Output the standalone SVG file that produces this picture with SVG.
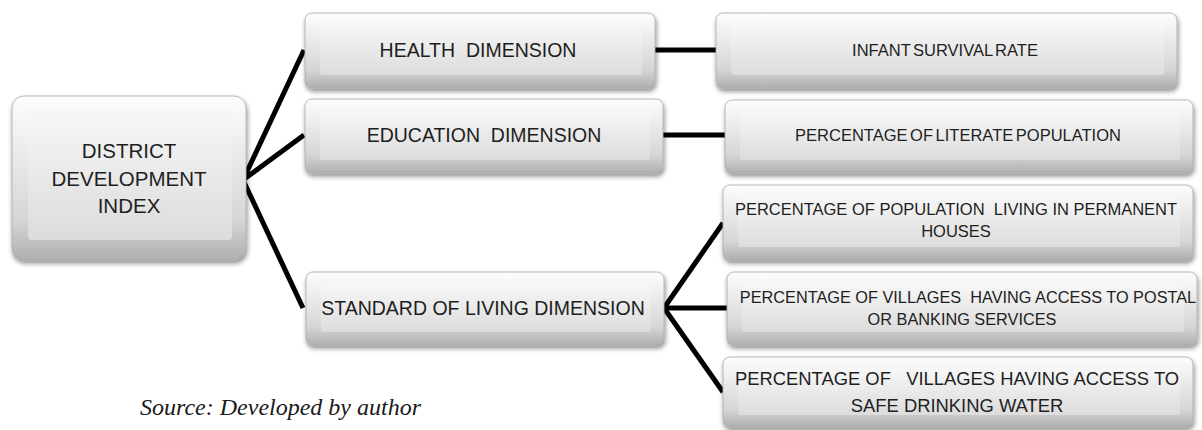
<svg xmlns="http://www.w3.org/2000/svg" width="1202" height="430" viewBox="0 0 1202 430">
<defs>
<linearGradient id="outerG" x1="0" y1="0" x2="0" y2="1">
<stop offset="0" stop-color="#fdfdfd"/>
<stop offset="0.75" stop-color="#d6d6d6"/>
<stop offset="1" stop-color="#afafaf"/>
</linearGradient>
<linearGradient id="faceG" x1="0" y1="0" x2="0" y2="1">
<stop offset="0" stop-color="#f7f7f7"/>
<stop offset="1" stop-color="#dcdcdc"/>
</linearGradient>
<filter id="sh" x="-5%" y="-10%" width="112%" height="130%">
<feGaussianBlur in="SourceAlpha" stdDeviation="2.5"/>
<feOffset dx="1" dy="3" result="b"/>
<feComponentTransfer><feFuncA type="linear" slope="0.45"/></feComponentTransfer>
<feMerge><feMergeNode/><feMergeNode in="SourceGraphic"/></feMerge>
</filter>
</defs>
<style>
.box{fill:url(#outerG);stroke:#a8a8a8;stroke-width:0.8;filter:url(#sh)}
.face{fill:url(#faceG)}
.t{font-family:"Liberation Sans",Arial,sans-serif;fill:#1e1e1e;text-anchor:middle}
.src{font-family:"Liberation Serif","Times New Roman",serif;font-style:italic;fill:#1a1a1a;font-size:24px}
.c{stroke:#000;stroke-width:5;fill:none;stroke-linecap:butt}
</style>
<rect width="1202" height="430" fill="#ffffff"/>

<g id="connectors">
<line class="c" x1="243" y1="180" x2="304" y2="50"/>
<line class="c" x1="243" y1="180" x2="304" y2="135"/>
<line class="c" x1="243" y1="180" x2="303" y2="308"/>
<line class="c" x1="655" y1="50" x2="716" y2="50"/>
<line class="c" x1="663" y1="135" x2="725" y2="135"/>
<line class="c" x1="664" y1="308" x2="723" y2="223"/>
<line class="c" x1="664" y1="308" x2="727" y2="308"/>
<line class="c" x1="664" y1="308" x2="723" y2="392"/>
</g>

<g id="ddi">
<rect class="box" x="12" y="96" width="234" height="164" rx="12"/>
<rect class="face" x="28" y="108" width="204" height="132" rx="4"/>
<text class="t" font-size="20.5"><tspan x="129" y="158">DISTRICT</tspan><tspan x="129" y="186">DEVELOPMENT</tspan><tspan x="129" y="213">INDEX</tspan></text>
</g>

<g id="health">
<rect class="box" x="305" y="13" width="350" height="75" rx="7"/>
<rect class="face" x="320" y="24" width="322" height="51" rx="3"/>
<text class="t" font-size="19.5" x="478" y="57" xml:space="preserve">HEALTH  DIMENSION</text>
</g>

<g id="education">
<rect class="box" x="305" y="99" width="358" height="74" rx="7"/>
<rect class="face" x="320" y="110" width="330" height="50" rx="3"/>
<text class="t" font-size="19.5" x="484" y="142" xml:space="preserve">EDUCATION  DIMENSION</text>
</g>

<g id="standard">
<rect class="box" x="306" y="272" width="358" height="73" rx="7"/>
<rect class="face" x="321" y="283" width="330" height="49" rx="3"/>
<text class="t" font-size="19.5" x="483" y="315">STANDARD OF LIVING DIMENSION</text>
</g>

<g id="infant">
<rect class="box" x="716" y="13" width="461" height="75" rx="7"/>
<rect class="face" x="731" y="24" width="433" height="51" rx="3"/>
<text class="t" font-size="16.5" x="945" y="56" word-spacing="-2">INFANT SURVIVAL RATE</text>
</g>

<g id="literate">
<rect class="box" x="725" y="100" width="468" height="73" rx="7"/>
<rect class="face" x="740" y="111" width="440" height="49" rx="3"/>
<text class="t" font-size="16.5" x="958" y="141" word-spacing="-2">PERCENTAGE OF LITERATE POPULATION</text>
</g>

<g id="permanent">
<rect class="box" x="723" y="185" width="470" height="75" rx="7"/>
<rect class="face" x="738" y="196" width="442" height="51" rx="3"/>
<text class="t" font-size="16.5" xml:space="preserve"><tspan x="956" y="215">PERCENTAGE OF POPULATION  LIVING IN PERMANENT</tspan><tspan x="956" y="237">HOUSES</tspan></text>
</g>

<g id="postal">
<rect class="box" x="727" y="272" width="470" height="73" rx="7"/>
<rect class="face" x="742" y="283" width="442" height="49" rx="3"/>
<text class="t" font-size="16.3" xml:space="preserve"><tspan x="968" y="303">PERCENTAGE OF VILLAGES  HAVING ACCESS TO POSTAL</tspan><tspan x="962" y="325">OR BANKING SERVICES</tspan></text>
</g>

<g id="water">
<rect class="box" x="723" y="357" width="470" height="70" rx="7"/>
<rect class="face" x="738" y="368" width="442" height="47" rx="3"/>
<text class="t" font-size="18.4" xml:space="preserve"><tspan x="957" y="385">PERCENTAGE OF   VILLAGES HAVING ACCESS TO</tspan><tspan x="957" y="412">SAFE DRINKING WATER</tspan></text>
</g>

<text class="src" x="140" y="415">Source: Developed by author</text>
</svg>
